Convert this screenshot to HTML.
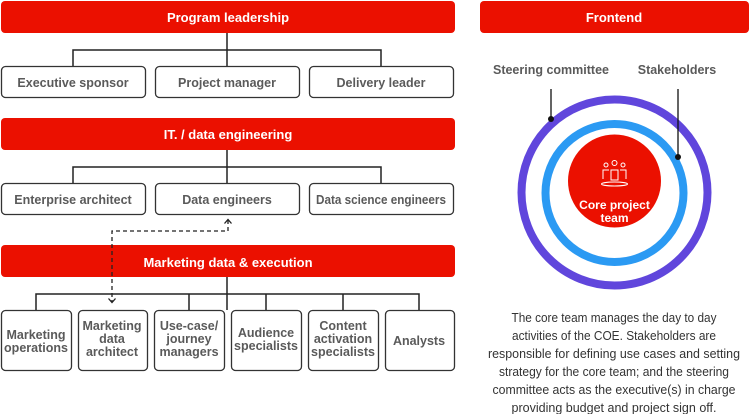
<!DOCTYPE html>
<html><head><meta charset="utf-8"><style>
html,body{margin:0;padding:0;background:#fff;width:750px;height:414px;overflow:hidden}
svg{display:block}
text{font-family:"Liberation Sans",sans-serif}
.h{fill:#fff;font-size:13px;font-weight:bold}
.b{fill:#5a5a5a;font-size:12.5px;font-weight:bold}
.p{fill:#333;font-size:12.5px}
</style></head><body>
<svg width="750" height="414" viewBox="0 0 750 414" xmlns="http://www.w3.org/2000/svg">
<g fill="#eb1000">
<rect x="1" y="1" width="454" height="32" rx="4"/>
<rect x="1" y="118" width="454" height="32" rx="4"/>
<rect x="1" y="245" width="454" height="32" rx="4"/>
<rect x="480" y="1" width="269" height="32" rx="4"/>
</g>
<text class="h" x="228" y="22" text-anchor="middle">Program leadership</text>
<text class="h" x="228" y="139" text-anchor="middle">IT. / data engineering</text>
<text class="h" x="228" y="267" text-anchor="middle">Marketing data &amp; execution</text>
<text class="h" x="614" y="22" text-anchor="middle">Frontend</text>
<g fill="none" stroke="#222" stroke-width="1.5">
<path d="M227 33V66M73 66V50H381V66"/>
<path d="M227 150V183M73 183V167H381V167V183"/>
<path d="M227 277V310M36 310V294H419V310M189 294V310M266 294V310M343 294V310"/>
</g>
<g fill="#fff" stroke="#333" stroke-width="1.3">
<rect x="1.5" y="66.5" width="144" height="31" rx="4"/>
<rect x="155.5" y="66.5" width="144" height="31" rx="4"/>
<rect x="309.5" y="66.5" width="144" height="31" rx="4"/>
<rect x="1.5" y="183.5" width="144" height="31" rx="4"/>
<rect x="155.5" y="183.5" width="144" height="31" rx="4"/>
<rect x="309.5" y="183.5" width="144" height="31" rx="4"/>
<rect x="1.5" y="310.5" width="70" height="60" rx="4"/>
<rect x="78.5" y="310.5" width="69" height="60" rx="4"/>
<rect x="154.5" y="310.5" width="70" height="60" rx="4"/>
<rect x="231.5" y="310.5" width="70" height="60" rx="4"/>
<rect x="308.5" y="310.5" width="70" height="60" rx="4"/>
<rect x="385.5" y="310.5" width="69" height="60" rx="4"/>
</g>
<g class="b" text-anchor="middle">
<text x="73" y="87">Executive sponsor</text>
<text x="227" y="87">Project manager</text>
<text x="381" y="87">Delivery leader</text>
<text x="73" y="204">Enterprise architect</text>
<text x="227" y="204">Data engineers</text>
<text x="381" y="204" textLength="130" lengthAdjust="spacingAndGlyphs">Data science engineers</text>
<text x="36" y="339">Marketing</text><text x="36" y="352">operations</text>
<text x="112" y="330">Marketing</text><text x="112" y="343">data</text><text x="112" y="356">architect</text>
<text x="189" y="330">Use-case/</text><text x="189" y="343">journey</text><text x="189" y="356">managers</text>
<text x="266" y="337">Audience</text><text x="266" y="350">specialists</text>
<text x="343" y="330">Content</text><text x="343" y="343">activation</text><text x="343" y="356">specialists</text>
<text x="419" y="345">Analysts</text>
</g>
<path d="M228 220V231H112V302" fill="none" stroke="#222" stroke-width="1.3" stroke-dasharray="4,3"/>
<path d="M224.5 223.5L228 219.5L231.5 223.5M108.5 298.5L112 302.5L115.5 298.5" fill="none" stroke="#222" stroke-width="1.3"/>
<text class="b" x="551" y="74" text-anchor="middle">Steering committee</text>
<text class="b" x="677" y="74" text-anchor="middle">Stakeholders</text>
<circle cx="614.5" cy="192.5" r="93" fill="none" stroke="#6046dc" stroke-width="8"/>
<circle cx="614.5" cy="193" r="69" fill="none" stroke="#2b9af3" stroke-width="8"/>
<circle cx="614.5" cy="181" r="46.5" fill="#eb1000"/>
<path d="M551 89V119M678 89V157" stroke="#111" stroke-width="1.3"/>
<circle cx="551" cy="119" r="3" fill="#111"/><circle cx="678" cy="157" r="3" fill="#111"/>
<g fill="none" stroke="#fff" stroke-width="1">
<circle cx="614.5" cy="163" r="2.5"/><circle cx="606" cy="165" r="2"/><circle cx="623" cy="165" r="2"/>
<path d="M611 180V170H618V180ZM603 179V170H609M626 179V170H620"/>
<ellipse cx="614.5" cy="184" rx="13" ry="2"/>
</g>
<text class="h" x="614.5" y="209" text-anchor="middle" style="font-size:12px">Core project</text>
<text class="h" x="614.5" y="222" text-anchor="middle" style="font-size:12px">team</text>
<g class="p" text-anchor="middle">
<text x="614" y="322" textLength="205" lengthAdjust="spacingAndGlyphs">The core team manages the day to day</text>
<text x="614" y="340" textLength="204" lengthAdjust="spacingAndGlyphs">activities of the COE. Stakeholders are</text>
<text x="614" y="358" textLength="252" lengthAdjust="spacingAndGlyphs">responsible for defining use cases and setting</text>
<text x="614" y="376" textLength="230" lengthAdjust="spacingAndGlyphs">strategy for the core team; and the steering</text>
<text x="614" y="394" textLength="243" lengthAdjust="spacingAndGlyphs">committee acts as the executive(s) in charge</text>
<text x="614" y="412" textLength="205" lengthAdjust="spacingAndGlyphs">providing budget and project sign off.</text>
</g>
</svg>
</body></html>
